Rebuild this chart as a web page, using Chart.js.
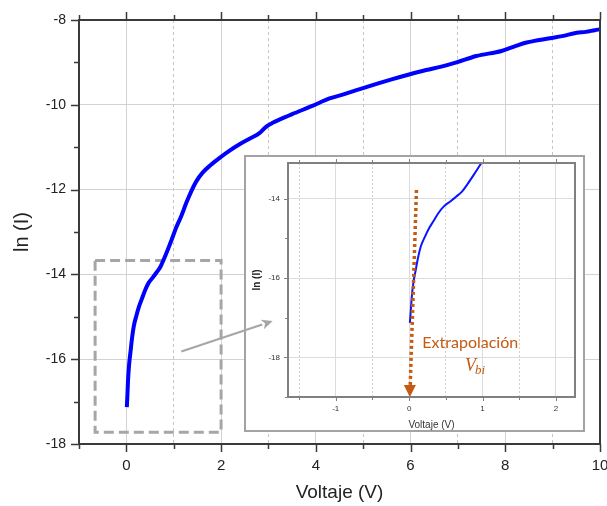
<!DOCTYPE html>
<html><head><meta charset="utf-8">
<script src="https://cdn.jsdelivr.net/npm/chart.js@4"></script>
<style>
html,body{margin:0;padding:0;background:#fff;overflow:hidden;}
#wrap{position:relative;width:607px;height:506px;}
#main{position:absolute;left:0;top:0;}
#insetBox{position:absolute;left:244px;top:155px;width:341px;height:277px;border:2px solid #a3a3a3;box-sizing:border-box;background:#fff;}
#inset{display:block;}
#overlay{position:absolute;left:0;top:0;pointer-events:none;}
</style></head>
<body><div id="wrap">
<canvas id="main" width="607" height="506"></canvas>
<div id="insetBox"><canvas id="inset" width="337" height="273"></canvas></div>
<canvas id="overlay" width="607" height="506"></canvas>
</div>
<script>
// ---- data ----
const voltage = [0.01,0.02,0.035,0.06,0.09,0.12,0.16,0.21,0.27,0.33,0.40,0.47,0.56,0.64,0.72,0.80,0.88,0.96,1.05,1.16,1.27,1.37,1.48,1.61,1.78,1.97,2.18,2.39,2.60,2.81,2.95,3.10,3.23,3.50,3.94,4.29,4.60,4.93,5.30,5.60,5.95,6.33,6.65,6.97,7.39,7.92,8.20,8.45,8.94,9.20,9.51,9.70,9.89,10.0];
const lnI = [-17.13,-16.90,-16.50,-16.10,-15.80,-15.50,-15.20,-14.98,-14.75,-14.57,-14.36,-14.20,-14.07,-13.95,-13.82,-13.62,-13.40,-13.17,-12.90,-12.62,-12.30,-12.04,-11.80,-11.60,-11.42,-11.25,-11.08,-10.93,-10.80,-10.67,-10.52,-10.42,-10.35,-10.22,-10.02,-9.85,-9.75,-9.63,-9.50,-9.40,-9.29,-9.18,-9.10,-9.00,-8.85,-8.73,-8.62,-8.53,-8.43,-8.38,-8.30,-8.28,-8.24,-8.22];
const mainXTicks = [-1,0,1,2,3,4,5,6,7,8,9,10];
const mainYTicks = [-18,-17,-16,-15,-14,-13,-12,-11,-10,-9,-8];
const insetXTicks = [-1.5,-1,-0.5,0,0.5,1,1.5,2];
const insetYTicks = [-19,-18,-17,-16,-15,-14];
const xTitle = 'Voltaje (V)';
const yTitle = 'ln (I)';
const noteText = 'Extrapolación';
const noteSymbol = 'V';
const noteSub = 'bi';
// annotation anchors (data units)
const zoomBoxX = [-0.66, 2.0];
const zoomBoxY = [-17.72, -13.67];
const pointerFrom = [1.16, -15.82];
const pointerTo = [3.09, -15.10];
const extrapFrom = [0.10, -13.78];
const extrapTo = [0.01, -19.0];

const FONT = "'Liberation Sans', Arial, sans-serif";
Chart.defaults.font.family = FONT;

const points = voltage.map((v, i) => ({x: v, y: lnI[i]}));

function frameAndTicks(chart, o) {
  const {ctx, chartArea: {left, right, top, bottom}, scales: {x, y}} = chart;
  ctx.save();
  ctx.strokeStyle = o.color;
  ctx.lineWidth = o.tickWidth;
  ctx.beginPath();
  o.xTicks.forEach(v => {
    const px = Math.round(x.getPixelForValue(v)) + 0.5;
    const len = o.isMajorX(v) ? o.major : o.minor;
    ctx.moveTo(px, bottom); ctx.lineTo(px, bottom + len);
    ctx.moveTo(px, top); ctx.lineTo(px, top - len);
  });
  o.yTicks.forEach(v => {
    const py = Math.round(y.getPixelForValue(v)) + 0.5;
    const len = o.isMajorY(v) ? o.major : o.minor;
    ctx.moveTo(left, py); ctx.lineTo(left - len, py);
  });
  ctx.stroke();
  ctx.lineWidth = o.frameWidth;
  ctx.strokeRect(left, top, right - left, bottom - top);
  ctx.restore();
}

const mainDecor = {
  id: 'mainDecor',
  beforeDatasetsDraw(chart) {
    const {ctx, scales: {x, y}} = chart;
    const x0 = x.getPixelForValue(zoomBoxX[0]), x1 = x.getPixelForValue(zoomBoxX[1]);
    const y0 = y.getPixelForValue(zoomBoxY[1]), y1 = y.getPixelForValue(zoomBoxY[0]);
    ctx.save();
    ctx.strokeStyle = '#a6a6a6';
    ctx.lineWidth = 3;
    ctx.setLineDash([10, 5]);
    ctx.strokeRect(x0, y0, x1 - x0, y1 - y0);
    ctx.restore();
  },
  afterDraw(chart) {
    frameAndTicks(chart, {
      color: '#3a3a3a', frameWidth: 2, tickWidth: 1.5, major: 8, minor: 5,
      xTicks: mainXTicks, yTicks: mainYTicks,
      isMajorX: v => v % 2 === 0, isMajorY: v => v % 2 === 0
    });
  }
};

const mainChart = new Chart(document.getElementById('main'), {
  type: 'scatter',
  data: {datasets: [{
    data: points, showLine: true, pointRadius: 0, borderColor: '#0000ff',
    borderWidth: 4, cubicInterpolationMode: 'monotone', fill: false
  }]},
  options: {
    responsive: false, animation: false,
    layout: {padding: {top: 20, right: 7, left: 0, bottom: 0}},
    plugins: {legend: {display: false}, tooltip: {enabled: false}},
    scales: {
      x: {
        type: 'linear', min: -1, max: 10,
        afterBuildTicks: s => { s.ticks = mainXTicks.map(v => ({value: v})); },
        afterFit: s => { s.height = 62; s.paddingLeft = 0; s.paddingRight = 0; },
        grid: {
          drawTicks: false, lineWidth: 1,
          color: c => { const v = c.tick ? c.tick.value : 0; if (v === -1 || v === 10) return 'rgba(0,0,0,0)'; return v % 2 === 0 ? '#d2d2d2' : '#c4c4c4'; }
        },
        border: {display: false, dash: c => (c.tick && Math.abs(c.tick.value) % 2 === 1) ? [3, 3] : []},
        ticks: {padding: 13, autoSkip: false, maxRotation: 0, color: '#222', font: {size: 15},
          callback: v => (v % 2 === 0 ? String(v) : '')},
        title: {display: true, text: xTitle, color: '#222', font: {size: 19}, padding: {top: 0, bottom: 2}}
      },
      y: {
        type: 'linear', min: -18, max: -8,
        afterBuildTicks: s => { s.ticks = mainYTicks.map(v => ({value: v})); },
        afterFit: s => { s.width = 79; s.paddingTop = 0; s.paddingBottom = 0; },
        grid: {
          drawTicks: false, lineWidth: 1,
          color: c => { const v = c.tick ? c.tick.value : 0; return (v % 2 === 0 && v > -18 && v < -8) ? '#d2d2d2' : 'rgba(0,0,0,0)'; }
        },
        border: {display: false},
        ticks: {padding: 13, autoSkip: false, color: '#222', font: {size: 14},
          callback: v => (v % 2 === 0 ? String(v) : '')},
        title: {display: true, text: yTitle, color: '#222', font: {size: 20}, padding: {top: 10, bottom: 0}}
      }
    }
  },
  plugins: [mainDecor]
});

const insetDecor = {
  id: 'insetDecor',
  afterDatasetsDraw(chart) {
    const {ctx, scales: {x, y}} = chart;
    const xa = x.getPixelForValue(extrapFrom[0]), ya = y.getPixelForValue(extrapFrom[1]);
    const xb = x.getPixelForValue(extrapTo[0]), yb = y.getPixelForValue(extrapTo[1]);
    const headH = 12, headW = 12;
    const ratio = (yb - headH - ya) / (yb - ya);
    const xe = xa + (xb - xa) * ratio, ye = yb - headH;
    ctx.save();
    ctx.strokeStyle = '#c55a11';
    ctx.fillStyle = '#c55a11';
    ctx.lineWidth = 3.5;
    ctx.setLineDash([3, 3]);
    ctx.beginPath(); ctx.moveTo(xa, ya); ctx.lineTo(xe, ye); ctx.stroke();
    ctx.setLineDash([]);
    ctx.beginPath();
    ctx.moveTo(xb - headW / 2, ye); ctx.lineTo(xb + headW / 2, ye); ctx.lineTo(xb, yb); ctx.closePath();
    ctx.fill();
    // labels
    ctx.textBaseline = 'middle';
    ctx.textAlign = 'left';
    ctx.font = "16px Lato, 'Open Sans', sans-serif";
    ctx.fillText(noteText, x.getPixelForValue(0.18), y.getPixelForValue(-17.64));
    ctx.font = "italic 18px 'Liberation Serif', 'DejaVu Serif', serif";
    const vx = x.getPixelForValue(0.76), vy = y.getPixelForValue(-18.2);
    ctx.textBaseline = 'alphabetic';
    ctx.fillText(noteSymbol, vx, vy + 6);
    const w = ctx.measureText(noteSymbol).width;
    ctx.font = "italic 13px 'Liberation Serif', 'DejaVu Serif', serif";
    ctx.fillText(noteSub, vx + w - 1, vy + 9);
    ctx.restore();
  },
  afterDraw(chart) {
    frameAndTicks(chart, {
      color: '#808080', frameWidth: 2, tickWidth: 1, major: 4, minor: 3,
      xTicks: insetXTicks, yTicks: insetYTicks,
      isMajorX: v => Number.isInteger(v), isMajorY: v => v % 2 === 0
    });
  }
};

const insetChart = new Chart(document.getElementById('inset'), {
  type: 'scatter',
  data: {datasets: [{
    data: points, showLine: true, pointRadius: 0, borderColor: '#0a14ff',
    borderWidth: 2, cubicInterpolationMode: 'monotone', fill: false
  }]},
  options: {
    responsive: false, animation: false,
    layout: {padding: {top: 6, right: 8, left: 0, bottom: 0}},
    plugins: {legend: {display: false}, tooltip: {enabled: false}},
    scales: {
      x: {
        type: 'linear', min: -1.65, max: 2.26,
        afterBuildTicks: s => { s.ticks = insetXTicks.map(v => ({value: v})); },
        afterFit: s => { s.height = 33; s.paddingLeft = 0; s.paddingRight = 0; },
        grid: {drawTicks: false, lineWidth: 1,
          color: c => { const v = c.tick ? c.tick.value : 0; return Number.isInteger(v) ? '#dcdcdc' : '#cfcfcf'; }},
        border: {display: false, dash: c => (c.tick && !Number.isInteger(c.tick.value)) ? [2, 2] : []},
        ticks: {padding: 7, autoSkip: false, maxRotation: 0, color: '#333', font: {size: 8},
          callback: v => (Number.isInteger(v) ? String(v) : '')},
        title: {display: true, text: xTitle, color: '#333', font: {size: 10, lineHeight: 1}, padding: {top: 0, bottom: 0}}
      },
      y: {
        type: 'linear', min: -19, max: -13.1,
        afterBuildTicks: s => { s.ticks = insetYTicks.map(v => ({value: v})); },
        afterFit: s => { s.width = 42; s.paddingTop = 0; s.paddingBottom = 0; },
        grid: {drawTicks: false, lineWidth: 1,
          color: c => { const v = c.tick ? c.tick.value : 0; return (v % 2 === 0) ? '#dcdcdc' : 'rgba(0,0,0,0)'; }},
        border: {display: false},
        ticks: {padding: 8, autoSkip: false, color: '#333', font: {size: 8},
          callback: v => (v % 2 === 0 ? String(v) : '')},
        title: {display: true, text: yTitle, color: '#222', font: {size: 10, weight: 'bold'}, padding: {top: 5, bottom: 0}}
      }
    }
  },
  plugins: [insetDecor]
});

// pointer arrow from the dashed zoom box to the inset, placed via the main chart's scales
(function drawPointer() {
  const c = document.getElementById('overlay').getContext('2d');
  const sx = mainChart.scales.x, sy = mainChart.scales.y;
  const x0 = sx.getPixelForValue(pointerFrom[0]), y0 = sy.getPixelForValue(pointerFrom[1]);
  const x1 = sx.getPixelForValue(pointerTo[0]), y1 = sy.getPixelForValue(pointerTo[1]);
  const ang = Math.atan2(y1 - y0, x1 - x0);
  const hl = 11, hw = 5;
  const bx = x1 - hl * Math.cos(ang), by = y1 - hl * Math.sin(ang);
  c.strokeStyle = '#a6a6a6'; c.fillStyle = '#a6a6a6'; c.lineWidth = 2;
  c.beginPath(); c.moveTo(x0, y0); c.lineTo(bx, by); c.stroke();
  c.beginPath();
  c.moveTo(x1, y1);
  c.lineTo(bx + hw * Math.sin(ang), by - hw * Math.cos(ang));
  c.lineTo(bx + 3 * Math.cos(ang), by + 3 * Math.sin(ang));
  c.lineTo(bx - hw * Math.sin(ang), by + hw * Math.cos(ang));
  c.closePath(); c.fill();
})();
</script>
</body></html>
